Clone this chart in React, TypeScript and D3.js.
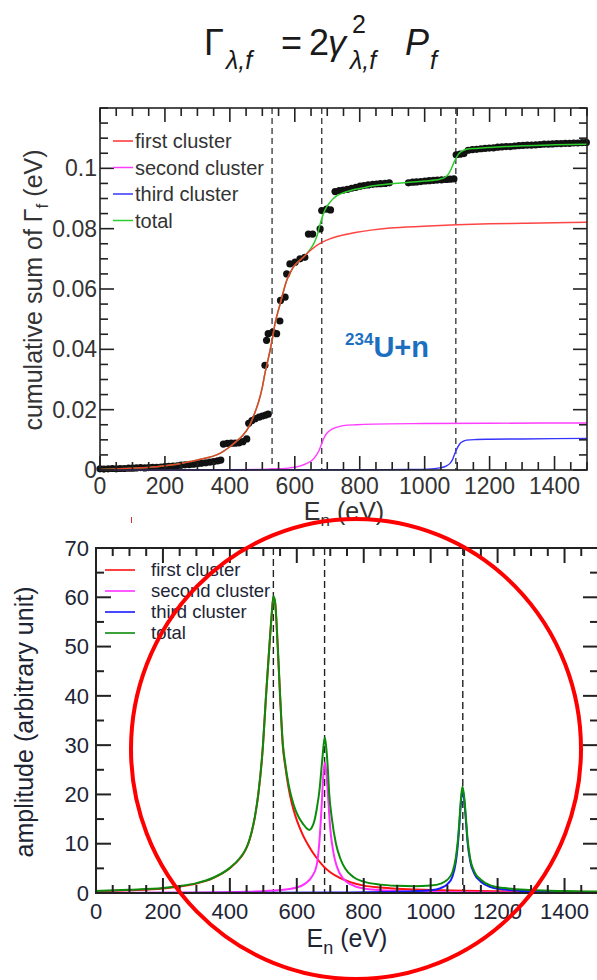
import React from 'react';
import * as d3 from 'd3';

// ---------- top panel: cumulative sum of fission widths ----------
const dotEnergy = [
  0, 12, 25, 38, 50, 62, 75, 88, 100, 112, 125, 138, 150, 162, 175, 188, 200, 212, 225, 238,
  250, 262, 275, 288, 300, 312, 325, 338, 350, 362, 372,
  380, 392, 404, 416, 428, 440, 452,
  458, 468, 478, 490, 500, 510, 518,
  508, 513, 518, 532, 544, 554, 556, 570, 575, 585, 601, 616, 631, 642, 655, 678, 683, 698, 710,
  724, 737, 749, 762, 775, 788, 801, 813, 826, 840, 852, 864, 878, 891,
  950, 963, 975, 988, 1001, 1014, 1027, 1039, 1052, 1066, 1078, 1090,
  1097, 1109, 1121, 1134, 1147, 1160, 1173, 1186, 1199, 1212, 1225, 1238, 1251, 1264, 1277, 1290,
  1303, 1316, 1329, 1342, 1355, 1368, 1381, 1394, 1407, 1420, 1433, 1446, 1459, 1472, 1485, 1498,
];
const dotGamma = [
  0.0004, 0.0003, 0.0004, 0.0005, 0.0004, 0.0005, 0.0005, 0.0006, 0.0006, 0.0007, 0.0008, 0.0007,
  0.0008, 0.0009, 0.0009, 0.001, 0.0011, 0.0012, 0.0013, 0.0014,
  0.0016, 0.0017, 0.0018, 0.0019, 0.0021, 0.0022, 0.0024, 0.0026, 0.0028, 0.003, 0.0033,
  0.0086, 0.0088, 0.0089, 0.0089, 0.009, 0.0094, 0.0103,
  0.0155, 0.0164, 0.017, 0.0175, 0.0179, 0.0182, 0.0185,
  0.0347, 0.043, 0.0452, 0.0457, 0.0452, 0.0494, 0.0562, 0.0573, 0.065, 0.0683, 0.0689, 0.07,
  0.0705, 0.0782, 0.0782, 0.0799, 0.086, 0.0865, 0.0862,
  0.0923, 0.0926, 0.0928, 0.093, 0.0934, 0.0937, 0.0941, 0.0943, 0.0945, 0.0947, 0.0948, 0.0949,
  0.095, 0.0952,
  0.0952, 0.0954, 0.0955, 0.0956, 0.0958, 0.0959, 0.096, 0.0961, 0.0962, 0.0963, 0.0964, 0.0965,
  0.1045, 0.1047, 0.1049, 0.106, 0.1062, 0.1063, 0.1065, 0.1066, 0.1067, 0.1068, 0.107, 0.1071,
  0.1072, 0.1072, 0.1074, 0.1075, 0.1076, 0.1077, 0.1077, 0.1078, 0.1079, 0.108, 0.108, 0.1081,
  0.1082, 0.1082, 0.1083, 0.1083, 0.1084, 0.1084, 0.1085, 0.1086,
];

const cumFirst: [number, number][] = [
  [0, 0.0002], [100, 0.0006], [175, 0.0011], [230, 0.0018], [277, 0.0028], [320, 0.0038],
  [359, 0.005], [380, 0.0062], [400, 0.0077], [420, 0.0095], [441, 0.0116], [458, 0.0142],
  [472, 0.0176], [483, 0.0208], [493, 0.0243], [501, 0.028], [508, 0.032], [516, 0.0358],
  [524, 0.0397], [532, 0.0442], [539, 0.0485], [547, 0.052], [555, 0.0551], [565, 0.0592],
  [575, 0.0628], [585, 0.0652], [595, 0.0672], [610, 0.069], [626, 0.0705], [645, 0.0725],
  [667, 0.0744], [688, 0.0757], [708, 0.0766], [750, 0.0779], [791, 0.0788], [840, 0.0796],
  [893, 0.0802], [996, 0.0808], [1099, 0.0813], [1200, 0.0816], [1304, 0.0818], [1400, 0.082],
  [1500, 0.0821],
];
const cumSecond: [number, number][] = [
  [0, 0], [400, 0.0001], [500, 0.0002], [550, 0.0004], [585, 0.0007], [615, 0.0013],
  [637, 0.0022], [655, 0.0034], [667, 0.005], [676, 0.0068], [683, 0.0088], [690, 0.0106],
  [698, 0.0121], [708, 0.0131], [719, 0.0138], [733, 0.0143], [749, 0.0147], [790, 0.015],
  [842, 0.0152], [996, 0.0154], [1200, 0.0155], [1500, 0.0156],
];
const cumThird: [number, number][] = [
  [0, 0], [800, 0.0001], [950, 0.0002], [1010, 0.0003], [1047, 0.0007], [1066, 0.0013],
  [1078, 0.0022], [1086, 0.0035], [1093, 0.0055], [1101, 0.0074], [1109, 0.0088],
  [1118, 0.0095], [1129, 0.0099], [1160, 0.0101], [1201, 0.0102], [1300, 0.0103],
  [1500, 0.0105],
];
const cumTotal: [number, number][] = [
  [0, 0.0002], [100, 0.0006], [175, 0.0011], [230, 0.0018], [277, 0.0028], [320, 0.0038],
  [359, 0.005], [380, 0.0062], [400, 0.0077], [420, 0.0095], [441, 0.0116], [458, 0.0142],
  [472, 0.0176], [483, 0.0208], [493, 0.0243], [501, 0.028], [508, 0.032], [516, 0.0358],
  [524, 0.0397], [532, 0.0442], [539, 0.0485], [547, 0.052], [555, 0.0551], [565, 0.0592],
  [575, 0.0628], [585, 0.0652], [595, 0.0672], [610, 0.069], [626, 0.0705], [645, 0.0728],
  [657, 0.0748], [668, 0.0775], [678, 0.0815], [688, 0.0849], [698, 0.0872], [708, 0.0887],
  [719, 0.09], [729, 0.0909], [750, 0.0919], [770, 0.0926], [800, 0.0933], [842, 0.0942],
  [890, 0.0948], [945, 0.0953], [1000, 0.0958], [1047, 0.0964], [1065, 0.0972], [1073, 0.0981],
  [1081, 0.0996], [1088, 0.1014], [1096, 0.1032], [1104, 0.1047], [1115, 0.1057], [1129, 0.1063],
  [1160, 0.1066], [1201, 0.1069], [1250, 0.1072], [1304, 0.1075], [1400, 0.1078], [1500, 0.108],
];

// ---------- bottom panel: amplitudes ----------
const ampFirst: [number, number][] = [
  [0, 0.35], [100, 0.55], [200, 0.9], [250, 1.3], [300, 1.9], [350, 3.0], [400, 5.0], [430, 7.0],
  [445, 8.5], [455, 10], [465, 12.3], [475, 15.5], [485, 20], [499, 30], [508, 40], [518, 50],
  [525, 56.5], [530, 60], [535, 59], [543, 50], [550, 40], [558, 30], [566, 25.5], [575, 21.5],
  [585, 18.2], [595, 15.8], [607, 13.5], [620, 11.5], [637, 9.4], [655, 7.5], [680, 5.4],
  [700, 4.2], [730, 3.0], [760, 2.2], [800, 1.5], [850, 1.1], [900, 0.85], [1000, 0.6],
  [1100, 0.45], [1250, 0.32], [1500, 0.2],
];
const ampSecond: [number, number][] = [
  [0, 0.05], [300, 0.12], [450, 0.25], [550, 0.6], [600, 1.1], [625, 1.9], [645, 3.3], [659, 5.5],
  [667, 10], [672, 15], [676, 20], [680, 24.5], [684, 26.5], [688, 24.5], [692, 21], [700, 13],
  [710, 8], [719, 5.5], [740, 2.8], [760, 1.8], [800, 0.9], [900, 0.4], [1000, 0.22],
  [1200, 0.1], [1500, 0.05],
];
const ampThird: [number, number][] = [
  [0, 0.02], [700, 0.1], [900, 0.25], [1000, 0.55], [1030, 1.0], [1050, 1.8], [1065, 3.3],
  [1075, 6.2], [1080, 9], [1085, 13], [1090, 18], [1095, 21], [1100, 19], [1105, 15],
  [1110, 10.5], [1118, 6.5], [1130, 4], [1150, 2.3], [1180, 1.2], [1220, 0.7], [1300, 0.35],
  [1400, 0.2], [1500, 0.1],
];
const ampTotal: [number, number][] = [
  [0, 0.42], [100, 0.65], [200, 1.0], [250, 1.4], [300, 2.0], [350, 3.1], [400, 5.1], [430, 7.1],
  [445, 8.6], [455, 10.1], [465, 12.4], [475, 15.6], [485, 20.1], [499, 30.1], [508, 40],
  [518, 50], [525, 56.5], [530, 60.2], [535, 59.1], [543, 50.1], [550, 40.3], [558, 30.5],
  [566, 26], [575, 22.2], [585, 19.2], [595, 17], [607, 15.2], [620, 13.9], [630, 13.1],
  [637, 12.8], [645, 13.3], [652, 14.5], [660, 17.2], [668, 21], [676, 27], [681, 30.5],
  [684, 31.5], [688, 29.5], [692, 26], [697, 20], [705, 15], [717, 10], [730, 7], [744, 5],
  [770, 3.2], [800, 2.3], [850, 1.7], [900, 1.45], [950, 1.35], [1000, 1.5], [1030, 1.9],
  [1050, 2.7], [1065, 4.2], [1075, 7.1], [1080, 9.8], [1085, 13.8], [1090, 18.7], [1095, 21.6],
  [1100, 19.6], [1105, 15.6], [1110, 11.1], [1118, 7.0], [1130, 4.4], [1150, 2.7], [1180, 1.5],
  [1220, 1.0], [1300, 0.6], [1400, 0.4], [1500, 0.3],
];

const energyTicks = [0, 200, 400, 600, 800, 1000, 1200, 1400];
const gammaTicks = [0, 0.02, 0.04, 0.06, 0.08, 0.1];
const gammaTickLabels = ['0', '0.02', '0.04', '0.06', '0.08', '0.1'];
const ampTicks = [0, 10, 20, 30, 40, 50, 60, 70];
const clusterEnergies = [530, 683, 1096];
const legendLabels = ['first cluster', 'second cluster', 'third cluster', 'total'];

const FONT = 'Liberation Sans, Arial, Helvetica, sans-serif';

type Scale = d3.ScaleLinear<number, number>;

function Frame({ x, y, yMajor, yMinorStep, major, minor, color, width }: {
  x: Scale; y: Scale; yMajor: number[]; yMinorStep: number; major: number; minor: number;
  color: string; width: number;
}) {
  const [x0, x1] = x.range();
  const [y0, y1] = y.range();
  const xMinor = d3.range(0, 1501, 50).filter((v) => v % 200 !== 0);
  const yMax = y.domain()[1];
  const yMinor = d3.range(0, yMax + 1e-9, yMinorStep).filter((v) => !yMajor.some((m) => Math.abs(m - v) < 1e-9));
  return (
    <g stroke={color} strokeWidth={width} fill="none">
      <rect x={x0} y={y1} width={x1 - x0} height={y0 - y1} />
      {energyTicks.map((v) => (
        <g key={'xm' + v}>
          <line x1={x(v)} x2={x(v)} y1={y0} y2={y0 - major} />
          <line x1={x(v)} x2={x(v)} y1={y1} y2={y1 + major} />
        </g>
      ))}
      {xMinor.map((v) => (
        <g key={'xn' + v}>
          <line x1={x(v)} x2={x(v)} y1={y0} y2={y0 - minor} />
          <line x1={x(v)} x2={x(v)} y1={y1} y2={y1 + minor} />
        </g>
      ))}
      {yMajor.map((v) => (
        <g key={'ym' + v}>
          <line x1={x0} x2={x0 + major} y1={y(v)} y2={y(v)} />
          <line x1={x1} x2={x1 - major} y1={y(v)} y2={y(v)} />
        </g>
      ))}
      {yMinor.map((v) => (
        <g key={'yn' + v}>
          <line x1={x0} x2={x0 + minor} y1={y(v)} y2={y(v)} />
          <line x1={x1} x2={x1 - minor} y1={y(v)} y2={y(v)} />
        </g>
      ))}
    </g>
  );
}

export default function App() {
  const tx = d3.scaleLinear().domain([0, 1500]).range([100, 587]);
  const ty = d3.scaleLinear().domain([0, 0.12]).range([470, 108]);
  const bx = d3.scaleLinear().domain([0, 1500]).range([96, 598]);
  const by = d3.scaleLinear().domain([0, 70]).range([893, 548]);

  const topLine = d3.line<[number, number]>().x((d) => tx(d[0])).y((d) => ty(d[1])).curve(d3.curveMonotoneX);
  const botLine = d3.line<[number, number]>().x((d) => bx(d[0])).y((d) => by(d[1])).curve(d3.curveMonotoneX);

  const topColors = ['#ff3030', '#ff3cff', '#3434ff', '#2ccc2c'];
  const botColors = ['#ff1010', '#ff30ff', '#1818ff', '#0b8c0b'];

  return (
    <svg width={597} height={980} style={{ position: 'absolute', left: 0, top: 0, background: '#fff' }} fontFamily={FONT}>
      <rect x={0} y={0} width={597} height={980} fill="#fff" />

      {/* formula */}
      <g fill="#1a1a1a">
        <text x={204} y={55} fontSize={36}>Γ</text>
        <text x={226} y={69} fontSize={25} fontStyle="italic">λ,f</text>
        <text x={281} y={55} fontSize={36}>=</text>
        <text x={309} y={55} fontSize={36}>2</text>
        <text x={328} y={55} fontSize={36} fontStyle="italic">γ</text>
        <text x={352} y={33} fontSize={25}>2</text>
        <text x={350} y={69} fontSize={25} fontStyle="italic">λ,f</text>
        <text x={405} y={55} fontSize={36} fontStyle="italic">P</text>
        <text x={430} y={69} fontSize={25} fontStyle="italic">f</text>
      </g>

      {/* ---------- top panel ---------- */}
      <g>
        {clusterEnergies.map((e) => (
          <line key={e} x1={tx(e)} x2={tx(e)} y1={ty(0.12)} y2={ty(0)} stroke="#333" strokeWidth={1.3} strokeDasharray="6,4" />
        ))}
        {dotEnergy.map((e, i) => (
          <circle key={i} cx={tx(e)} cy={ty(dotGamma[i])} r={3.6} fill="#111" />
        ))}
        <path d={topLine(cumSecond) ?? ''} fill="none" stroke={topColors[1]} strokeWidth={1.4} />
        <path d={topLine(cumThird) ?? ''} fill="none" stroke={topColors[2]} strokeWidth={1.4} />
        <path d={topLine(cumTotal) ?? ''} fill="none" stroke={topColors[3]} strokeWidth={1.5} />
        <path d={topLine(cumFirst) ?? ''} fill="none" stroke={topColors[0]} strokeWidth={1.5} opacity={0.9} />
        <Frame x={tx} y={ty} yMajor={gammaTicks} yMinorStep={0.005} major={14} minor={8} color="#222" width={1.6} />

        {gammaTicks.map((v, i) => (
          <text key={v} x={97} y={ty(v)} dy="0.35em" textAnchor="end" fontSize={23} fill="#333">{gammaTickLabels[i]}</text>
        ))}
        {energyTicks.map((v) => (
          <text key={v} x={tx(v)} y={494} textAnchor="middle" fontSize={23} fill="#333">{v}</text>
        ))}
        <text x={344} y={520} textAnchor="middle" fontSize={25} fill="#333">
          E<tspan dy={6} fontSize={17}>n</tspan><tspan dy={-6}> (eV)</tspan>
        </text>
        <text transform="translate(42,290) rotate(-90)" textAnchor="middle" fontSize={25} fill="#333">
          cumulative sum of Γ<tspan dy={6} fontSize={17}>f</tspan><tspan dy={-6}> (eV)</tspan>
        </text>

        {legendLabels.map((l, i) => (
          <g key={l}>
            <line x1={113} x2={133} y1={141 + i * 26.5} y2={141 + i * 26.5} stroke={topColors[i]} strokeWidth={1.5} />
            <text x={135} y={141 + i * 26.5} dy="0.35em" fontSize={20} fill="#333">{l}</text>
          </g>
        ))}

        <text x={345} y={357} fill="#1c6fc0" fontWeight="bold">
          <tspan fontSize={17} dy={-12}>234</tspan><tspan fontSize={29} dy={12}>U+n</tspan>
        </text>
        <line x1={131.5} x2={131.5} y1={517} y2={523} stroke="#e03030" strokeWidth={1} />
      </g>

      {/* ---------- bottom panel ---------- */}
      <g>
        {clusterEnergies.map((e) => (
          <line key={e} x1={bx(e)} x2={bx(e)} y1={by(70)} y2={by(0)} stroke="#222" strokeWidth={1.4} strokeDasharray="7,4" />
        ))}
        <path d={botLine(ampFirst) ?? ''} fill="none" stroke={botColors[0]} strokeWidth={2} />
        <path d={botLine(ampSecond) ?? ''} fill="none" stroke={botColors[1]} strokeWidth={2} />
        <path d={botLine(ampThird) ?? ''} fill="none" stroke={botColors[2]} strokeWidth={2} />
        <path d={botLine(ampTotal) ?? ''} fill="none" stroke={botColors[3]} strokeWidth={2} />
        <Frame x={bx} y={by} yMajor={ampTicks} yMinorStep={5} major={15} minor={8} color="#222" width={2} />

        {ampTicks.map((v) => (
          <text key={v} x={89} y={by(v)} dy="0.35em" textAnchor="end" fontSize={22} fill="#1d2535">{v}</text>
        ))}
        {energyTicks.map((v) => (
          <text key={v} x={bx(v)} y={919} textAnchor="middle" fontSize={22} fill="#1d2535">{v}</text>
        ))}
        <text x={347} y={947} textAnchor="middle" fontSize={25} fill="#1d2535">
          E<tspan dy={7} fontSize={18}>n</tspan><tspan dy={-7}> (eV)</tspan>
        </text>
        <text transform="translate(33,722) rotate(-90)" textAnchor="middle" fontSize={25} fill="#1d2535">
          amplitude (arbitrary unit)
        </text>

        {legendLabels.map((l, i) => (
          <g key={l}>
            <line x1={105} x2={135} y1={570 + i * 21} y2={570 + i * 21} stroke={botColors[i]} strokeWidth={1.6} />
            <text x={151} y={570 + i * 21} dy="0.35em" fontSize={18.5} fill="#1d2535">{l}</text>
          </g>
        ))}

        <ellipse cx={356} cy={749} rx={225} ry={230} fill="none" stroke="#ff0000" strokeWidth={4} />
      </g>
    </svg>
  );
}
